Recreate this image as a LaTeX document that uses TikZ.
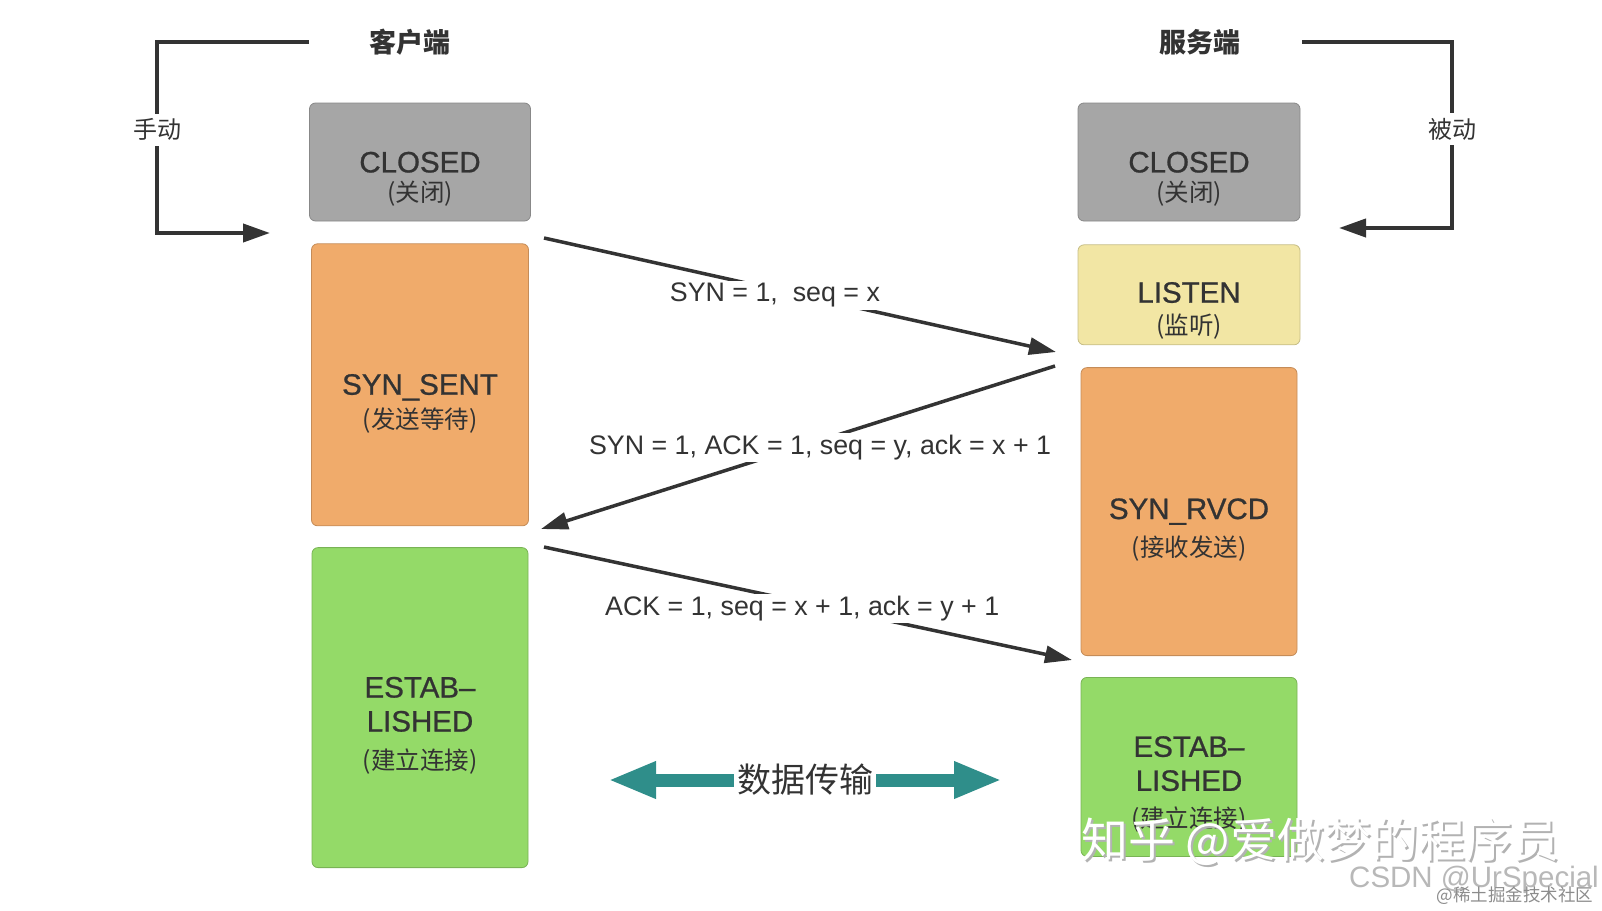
\documentclass[tikz,border=0pt]{standalone}
\usepackage{fontspec}
\setmainfont{Liberation Sans}
\newfontfamily\boxfont{Liberation Sans}[FakeBold=0.8, Ligatures=TeX]
\newfontfamily\cjk{Noto Sans CJK SC}
\usetikzlibrary{arrows.meta, positioning, calc}
\definecolor{ink}{HTML}{333333}
\definecolor{boxGray}{HTML}{A6A6A6}
\definecolor{boxOrange}{HTML}{F0AB6B}
\definecolor{boxYellow}{HTML}{F2E6A4}
\definecolor{boxGreen}{HTML}{94DA68}
\definecolor{dataTeal}{HTML}{2F8E8A}
\newcommand{\zhsub}[1]{{\cjk\fontsize{24.5}{28}\selectfont(#1)}}

\begin{document}
\begin{tikzpicture}[
  x=1pt, y=-1pt, node distance=22pt,
  statebox/.style={draw=#1!82!black, fill=#1, rounded corners=6pt, line width=0.8pt, inner sep=0pt},
  boxtext/.style={align=center, text=ink, font=\boxfont\fontsize{29.5}{34}\selectfont, yshift=-16pt},
  side/.style={text=ink, font=\cjk\bfseries\fontsize{27}{32}\selectfont},
  turn/.style={-{Triangle[length=27pt,width=18pt]}, line width=4pt, draw=ink},
  turnlabel/.style={fill=white, inner xsep=1pt, inner ysep=5pt, text=ink, font=\cjk\fontsize{24}{28}\selectfont},
  msg/.style={-{Triangle[length=27pt,width=17pt]}, line width=3.5pt, draw=ink},
  msglabel/.style={fill=white, inner sep=2pt, text=ink, font=\fontsize{26.8}{32}\selectfont},
  datalink/.style={{Triangle[length=48pt,width=34pt]}-{Triangle[length=48pt,width=34pt]}, line width=13pt, draw=dataTeal},
  datalabel/.style={fill=white, inner xsep=3pt, inner ysep=2pt, text=ink, font=\cjk\fontsize{34}{40}\selectfont},
  wmbig/.style={text=white, font=\cjk\fontsize{47}{52}\selectfont},
  wmshadow/.style={text=black!30, font=\cjk\fontsize{47}{52}\selectfont},
  wmmid/.style={text=black!28, font=\fontsize{29.5}{34}\selectfont},
  wmsmall/.style={text=black!45, font=\cjk\fontsize{17.5}{20}\selectfont}
]
\useasboundingbox (0,0) rectangle (1602,910);

% client side
\node[side] (client) at (410,42) {客户端};
\node[statebox=boxGray, minimum width=221pt, minimum height=118pt,
  label={[boxtext, yshift=-1pt]center:{CLOSED\\[-5pt]\zhsub{关闭}}}] (cclosed) at (420,162) {};
\node[statebox=boxOrange, minimum width=217pt, minimum height=282pt, below=22pt of cclosed,
  label={[boxtext, yshift=-3pt]center:{SYN\_SENT\\\zhsub{发送等待}}}] (csent) {};
\node[statebox=boxGreen, minimum width=216pt, minimum height=320pt, below=21pt of csent,
  label={[boxtext, yshift=-2pt]center:{ESTAB\textendash\\LISHED\\[4pt]\zhsub{建立连接}}}] (cest) {};

% server side
\node[side] (server) at (1200,42) {服务端};
\node[statebox=boxGray, minimum width=222pt, minimum height=118pt,
  label={[boxtext, yshift=-1pt]center:{CLOSED\\[-5pt]\zhsub{关闭}}}] (sclosed) at (1189,162) {};
\node[statebox=boxYellow, minimum width=222pt, minimum height=100pt, below=23pt of sclosed,
  label={[boxtext]center:{LISTEN\\[-2pt]\zhsub{监听}}}] (slisten) {};
\node[statebox=boxOrange, minimum width=216pt, minimum height=288pt, below=22pt of slisten,
  label={[boxtext, yshift=-2pt]center:{SYN\_RVCD\\[3pt]\zhsub{接收发送}}}] (srcvd) {};
\node[statebox=boxGreen, minimum width=216pt, minimum height=179pt, below=21pt of srcvd,
  label={[boxtext, yshift=-1.5pt]center:{ESTAB\textendash\\LISHED\\[3pt]\zhsub{建立连接}}}] (sest) {};

% open / listen turns
\coordinate (cin) at (309,42);
\coordinate (cout) at (270,233);
\draw[turn] (cin) -- (157,42) -- node[turnlabel, pos=0.46] (manual) {手动} (157,233) -- (cout);
\coordinate (sin) at (1302,42);
\coordinate (sout) at (1339,228);
\draw[turn] (sin) -- (1452,42) -- node[turnlabel, pos=0.47] (passive) {被动} (1452,228) -- (sout);

% three-way handshake
\coordinate (syn0) at (544,238);
\coordinate (syn1) at (1056,352);
\coordinate (ack0) at (1055,366);
\coordinate (ack1) at (541,529);
\coordinate (fin0) at (544,547);
\coordinate (fin1) at (1072,660);
\draw[msg] (syn0) -- node[msglabel, pos=0.451, yshift=-6pt] (m1) {SYN = 1,\ \ seq = x} (syn1);
\draw[msg] (ack0) -- node[msglabel, pos=0.457, yshift=-7pt] (m2) {SYN = 1, ACK = 1, seq = y, ack = x + 1} (ack1);
\draw[msg] (fin0) -- node[msglabel, pos=0.489, yshift=-6.5pt] (m3) {ACK = 1, seq = x + 1, ack = y + 1} (fin1);

% data transfer
\coordinate (dl) at (608,780);
\coordinate (dr) at (1002,780);
\draw[datalink] (dl) -- node[datalabel] (xfer) {数据传输} (dr);

% watermarks
\node[wmshadow] (zhihushadow) at (1322,844) {知乎 @爱做梦的程序员};
\node[wmbig] (zhihu) at (1320,842) {知乎 @爱做梦的程序员};
\node[wmmid] (csdn) at (1474,880) {CSDN @UrSpecial};
\node[wmsmall] (juejin) at (1515,896) {@稀土掘金技术社区};
\end{tikzpicture}
\end{document}
